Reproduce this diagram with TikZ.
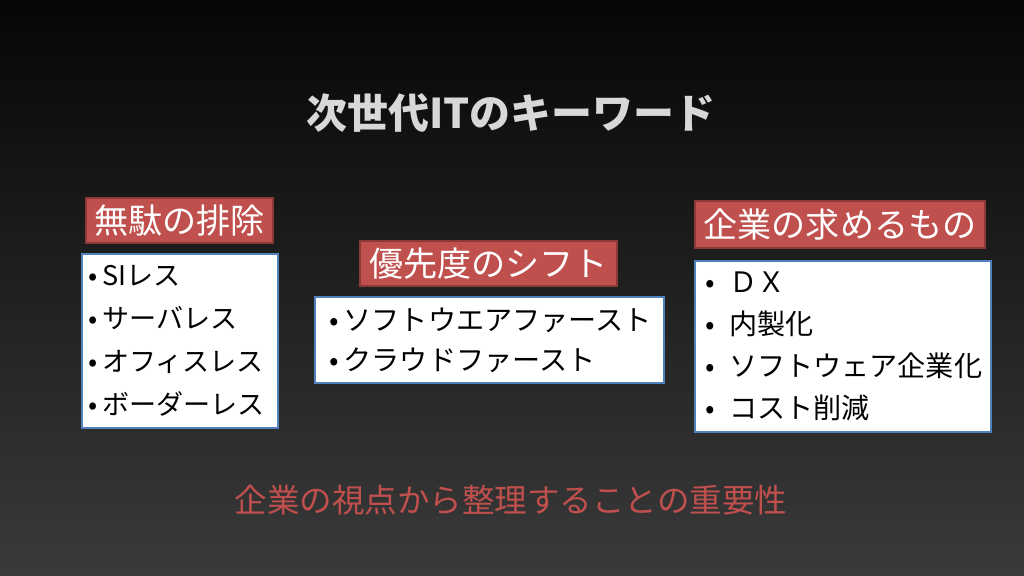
\documentclass[tikz,border=0pt]{standalone}
\usepackage{fontspec}
\setmainfont{Noto Sans CJK JP}
\usepackage{tikz}
\usetikzlibrary{shapes,calc}
\definecolor{labelred}{HTML}{C0504D}
\definecolor{labeledge}{HTML}{8C3A38}
\definecolor{boxblue}{HTML}{4F81BD}
\definecolor{titlegray}{HTML}{D8D8D8}
\definecolor{bgtop}{HTML}{060606}
\definecolor{bgbottom}{HTML}{3A3A3A}

\begin{document}
\begin{tikzpicture}
[label/.style={fill=labelred, draw=labeledge, line width=0.8pt, text=white, inner sep=0pt, font=\fontsize{19.4}{22}\selectfont},
 list/.style={fill=white, draw=boxblue, line width=1.4pt, align=left, inner sep=0pt, text=black}]
    \shade[top color=bgtop, bottom color=bgbottom] (0,0) rectangle (20.48,11.52);
    \useasboundingbox (0,0) rectangle (20.48,11.52);
    % title
    \node[text=titlegray, font=\fontsize{23.3}{26}\bfseries\selectfont] (T) at (10.22,9.26) {次世代ITのキーワード};
    % labels
    \node[label, minimum width=3.74cm, minimum height=0.9cm] (L1) at (3.59,7.11) {無駄の排除};
    \node[label, minimum width=5.14cm, minimum height=0.9cm] (L2) at (9.77,6.25) {優先度のシフト};
    \node[label, minimum width=5.8cm, minimum height=0.94cm] (L3) at (16.8,7.03) {企業の求めるもの};
    % lists
    \node[list, minimum width=3.92cm, minimum height=3.48cm, text width=3.66cm,
        font=\fontsize{15.4}{24.4}\selectfont] (B1) at (3.6,4.70)
        {•\,SIレス\\•\,サーバレス\\•\,オフィスレス\\•\,ボーダーレス};
    \node[list, minimum width=6.98cm, minimum height=1.72cm, text width=6.4cm,
        font=\fontsize{16}{22.8}\selectfont] (B2) at (9.79,4.72)
        {•\,ソフトウエアファースト\\•\,クラウドファースト};
    \node[list, minimum width=5.92cm, minimum height=3.42cm, text width=5.5cm,
        font=\fontsize{16}{23.9}\selectfont] (B3) at (16.86,4.59)
        {•\enspace ＤＸ\\•\enspace 内製化\\•\enspace ソフトウェア企業化\\•\enspace コスト削減};
    % bottom
    \node[text=labelred, font=\fontsize{18.5}{22}\selectfont] (S) at (10.22,1.52) {企業の視点から整理することの重要性};
\end{tikzpicture}
\end{document}
